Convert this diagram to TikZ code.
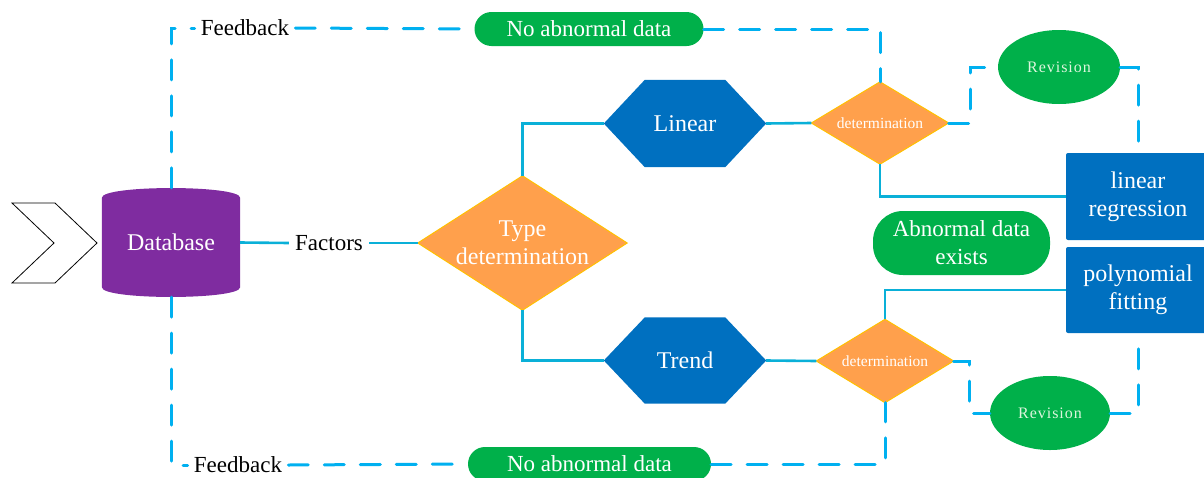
\documentclass[tikz,border=0pt]{standalone}
\usepackage{fontspec}
\setmainfont{Liberation Serif}
\usetikzlibrary{calc,shapes.geometric}
\pgfdeclarelayer{background}
\pgfsetlayers{background,main}
\definecolor{solidc}{HTML}{0AB0D8}
\definecolor{dashc}{HTML}{00B0F0}
\definecolor{orangef}{HTML}{FFA04C}
\definecolor{orangeb}{HTML}{FFC000}
\definecolor{greenf}{HTML}{00B04A}
\definecolor{bluef}{HTML}{0070C0}
\definecolor{purplef}{HTML}{7F2CA0}
\definecolor{revtext}{HTML}{DDF5DD}
\begin{document}
\begin{tikzpicture}[x=1pt,y=-1pt,
  box/.style={inner sep=0pt, align=center, text=white, font=\fontsize{24}{28}\selectfont},
  smallbox/.style={box, font=\fontsize{15.5}{18}\selectfont},
  lbl/.style={inner xsep=6pt, inner ysep=0pt, font=\fontsize{23}{27}\selectfont, text=black},
  pill/.style={box, fill=greenf, font=\fontsize{23}{28}\selectfont},
  rectbox/.style={box, fill=bluef, rounded corners=2pt},
  revbox/.style={ellipse, inner sep=0pt, fill=greenf, text=revtext, font=\fontsize{16}{18}\selectfont\addfontfeature{LetterSpace=6}},
  sline/.style={draw=solidc, line width=2.6pt},
  dline/.style={draw=dashc, line width=3pt, line cap=round, dash pattern=on 20pt off 16pt},
  dshape/.style={fill=orangef, draw=orangeb, line width=1pt},
]
\useasboundingbox (0,0) rectangle (1204,477);

% chevron
\draw[black, line width=0.8pt] (12,203) -- (55,203) -- (97,243) -- (55,283) -- (12,283) -- (54,243) -- cycle;

% nodes
\node[box, minimum width=138pt, minimum height=109pt] (db) at (171,242.5) {Database};
\node[lbl] (fac) at (329,243) {Factors};
\node[box, minimum width=209pt, minimum height=134pt] (td) at (522.5,243) {Type\\determination};
\node[box, minimum width=162pt, minimum height=87pt] (lin) at (685,123.5) {Linear};
\node[box, minimum width=162pt, minimum height=86pt] (trd) at (685,360.5) {Trend};
\node[smallbox, minimum width=137pt, minimum height=82pt] (det1) at (880,123) {determination};
\node[smallbox, minimum width=137pt, minimum height=83pt] (det2) at (885,361) {determination};
\node[rectbox, minimum width=144pt, minimum height=87pt] (lr) at (1138,196.5) {linear\\regression};
\node[rectbox, minimum width=144pt, minimum height=86pt] (pf) at (1138,290) {polynomial\\fitting};
\node[pill, rounded corners=30pt, minimum width=177pt, minimum height=64pt] (ade) at (961.5,243) {Abnormal data\\exists};
\node[revbox, minimum width=122pt, minimum height=74pt] (rev1) at (1059,67) {Revision};
\node[revbox, minimum width=120pt, minimum height=74pt] (rev2) at (1050,413) {Revision};
\node[pill, rounded corners=17pt, minimum width=229pt, minimum height=34pt] (nat) at (589,29) {No abnormal data};
\node[pill, rounded corners=17pt, minimum width=243pt, minimum height=34pt] (nab) at (589.5,464) {No abnormal data};
\node[lbl] (fbt) at (245,28) {Feedback};
\node[lbl] (fbb) at (238,465) {Feedback};

% shapes on background
\begin{pgfonlayer}{background}
\fill[purplef] ($(db.north west)+(0,10)$) .. controls ($(db.north west)+(0,-3)$) and ($(db.north east)+(0,-3)$) .. ($(db.north east)+(0,10)$)
  -- ($(db.south east)+(0,-10)$) .. controls ($(db.south east)+(0,3)$) and ($(db.south west)+(0,3)$) .. ($(db.south west)+(0,-10)$) -- cycle;
\path[dshape] (td.west) -- (td.north) -- (td.east) -- (td.south) -- cycle;
\path[dshape] (det1.west) -- (det1.north) -- (det1.east) -- (det1.south) -- cycle;
\path[dshape] (det2.west) -- (det2.north) -- (det2.east) -- (det2.south) -- cycle;
\fill[bluef] (lin.west) -- ($(lin.north west)+(41,0)$) -- ($(lin.north east)+(-41,0)$) -- (lin.east) -- ($(lin.south east)+(-41,0)$) -- ($(lin.south west)+(41,0)$) -- cycle;
\fill[bluef] (trd.west) -- ($(trd.north west)+(41,0)$) -- ($(trd.north east)+(-41,0)$) -- (trd.east) -- ($(trd.south east)+(-41,0)$) -- ($(trd.south west)+(41,0)$) -- cycle;
\end{pgfonlayer}

% solid connectors
\draw[sline] (db.east) -- (fac.west);
\draw[sline] (fac.east) -- (td.west);
\draw[sline] (td.north) |- (lin.west);
\draw[sline] (td.south) |- (trd.west);
\draw[sline] (lin.east) -- (det1.west);
\draw[sline] (trd.east) -- (det2.west);
\draw[sline] (det1.south) |- (lr.west);
\draw[sline] (det2.north) |- (pf.west);

% dashed connectors
\draw[dline] (db.north) |- (fbt.west);
\draw[dline] (fbt.east) -- (nat.west);
\draw[dline] (nat.east) -| (det1.north);
\draw[dline] (db.south) |- (fbb.west);
\draw[dline] (fbb.east) -- (nab.west);
\draw[dline] (nab.east) -| (det2.south);
\draw[dline] (det1.east) -- ++(22,0) |- (rev1.west);
\draw[dline] (rev1.east) -| (lr.north);
\draw[dline] (det2.east) -- ++(16,0) |- (rev2.west);
\draw[dline] (rev2.east) -| (pf.south);
\end{tikzpicture}
\end{document}
